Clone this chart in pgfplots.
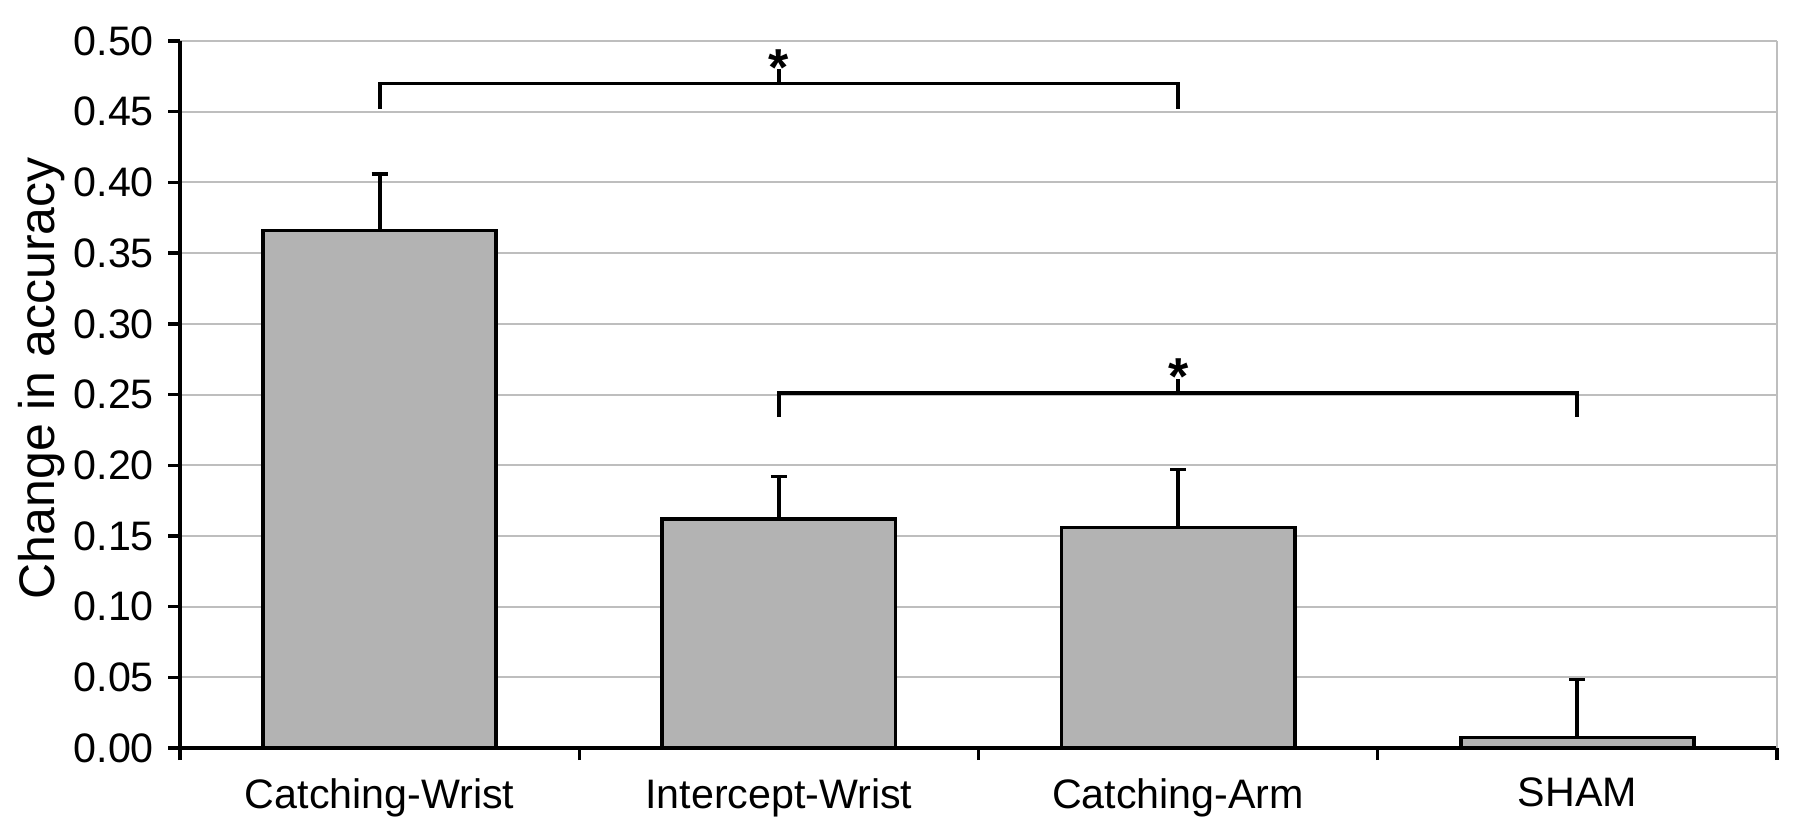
\documentclass[border=0pt]{standalone}
\usepackage{fontspec}
\setmainfont{Liberation Sans}
\usepackage{pgfplots}
\pgfplotsset{compat=1.18}
\definecolor{barfill}{RGB}{179,179,179}
\definecolor{gridc}{RGB}{190,190,190}
\begin{document}
\begin{tikzpicture}
\useasboundingbox (-45pt,-22.75pt) rectangle (405pt,187pt);
\begin{axis}[
  at={(0,0)}, anchor=south west,
  width=399.25pt, height=176.75pt, scale only axis,
  xmin=-0.5, xmax=3.5, ymin=0, ymax=0.5,
  clip=false,
  ybar, bar width=58.3pt,
  axis lines=left,
  axis line style={-, line width=0.85pt, black},
  xtick={0,1,2,3},
  xticklabels={Catching-Wrist,Intercept-Wrist,Catching-Arm,SHAM},
  major x tick style={draw=none},
  minor xtick={-0.5,0.5,1.5,2.5,3.5},
  minor tick length=3pt,
  major tick length=3pt,
  tick align=outside,
  tick style={black, line width=0.85pt},
  ytick={0,0.05,0.1,0.15,0.2,0.25,0.3,0.35,0.4,0.45,0.5},
  ymajorgrids,
  major grid style={gridc, line width=0.5pt},
  ticklabel style={font=\fontsize{10.3}{12}\selectfont},
  xticklabel style={yshift=-1pt},
  ylabel={Change in accuracy},
  ylabel style={font=\fontsize{12.5}{15}\selectfont, at={(axis description cs:-0.0864,0.523)}, anchor=center},
  /pgf/number format/fixed,
  /pgf/number format/fixed zerofill,
  /pgf/number format/precision=2,
  /pgf/number format/assume math mode=true,
]
\draw[gridc, line width=0.5pt] (axis cs:3.5,0) -- (axis cs:3.5,0.5);
\addplot[fill=barfill, draw=black, line width=0.95pt,
  error bars/.cd, y dir=plus, y explicit,
  error bar style={line width=0.95pt, black},
  error mark options={rotate=90, mark size=2pt, line width=0.95pt, black}]
  coordinates {(0,0.366) +- (0,0.040) (1,0.162) +- (0,0.030) (2,0.156) +- (0,0.041) (3,0.0075) +- (0,0.041)};
\draw[line width=0.95pt, line join=miter] (axis cs:0,0.452) -- (axis cs:0,0.470) -- (axis cs:2,0.470) -- (axis cs:2,0.452);
\draw[line width=0.95pt] (axis cs:1,0.470) -- (axis cs:1,0.480);
\node[font=\bfseries\fontsize{13}{13}\selectfont, anchor=base, yshift=-7.5pt, inner sep=0pt] at (axis cs:1,0.490) {*};
\draw[line width=0.95pt, line join=miter] (axis cs:1,0.234) -- (axis cs:1,0.251) -- (axis cs:3,0.251) -- (axis cs:3,0.234);
\draw[line width=0.95pt] (axis cs:2,0.251) -- (axis cs:2,0.261);
\node[font=\bfseries\fontsize{13}{13}\selectfont, anchor=base, yshift=-7.5pt, inner sep=0pt] at (axis cs:2,0.271) {*};
\end{axis}
\end{tikzpicture}
\end{document}
